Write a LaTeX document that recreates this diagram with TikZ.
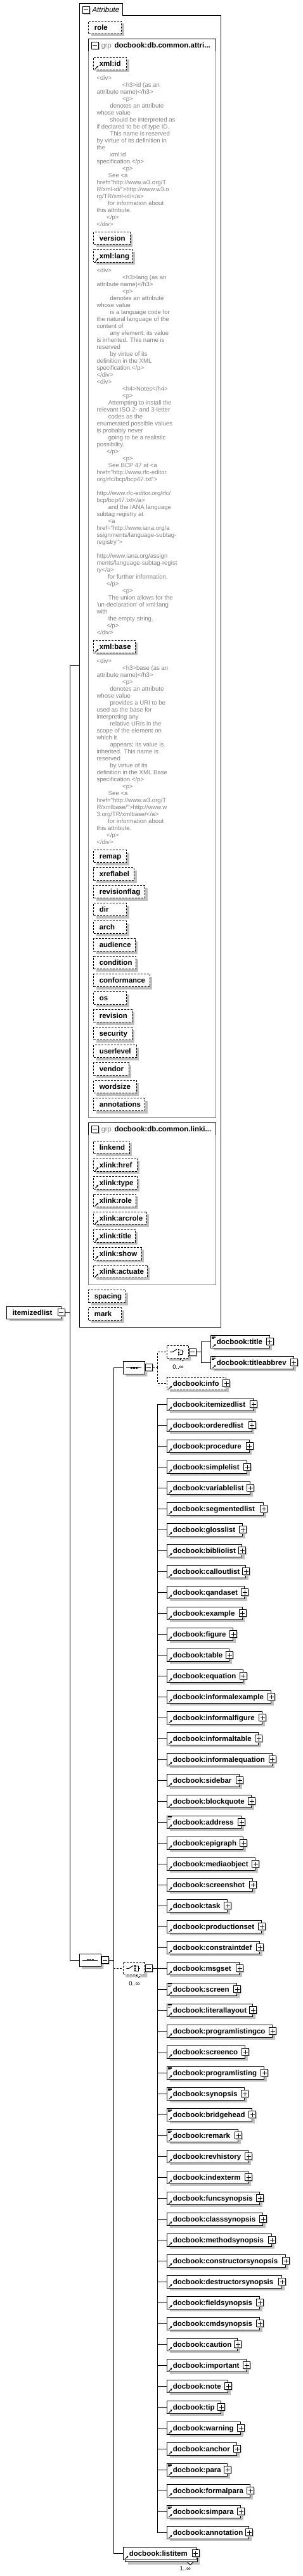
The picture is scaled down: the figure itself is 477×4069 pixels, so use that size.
\documentclass[tikz,border=0pt]{standalone}
\usepackage{fontspec}
\usetikzlibrary{shapes.misc,shadows,arrows.meta}
\newfontfamily\xsfont{Liberation Sans}
\definecolor{docgray}{RGB}{128,128,128}
\definecolor{shade}{RGB}{192,192,192}

\begin{document}
\begin{tikzpicture}[
    x=1pt, y=-1pt, line width=1pt,
    shadowed/.style={drop shadow={shadow xshift=4pt, shadow yshift=-4pt, fill=shade, opacity=1}},
    elemflat/.style={rectangle, draw, fill=white, anchor=west, inner xsep=9pt, inner ysep=0pt,
        minimum height=20pt, text height=9pt, text depth=1pt, font=\xsfont\bfseries\fontsize{11.5}{13}\selectfont},
    elem/.style={elemflat, shadowed},
    attr/.style={elem, dash pattern=on 3pt off 2pt},
    pm/.style={rectangle, draw, fill=white, minimum size=11pt, inner sep=0pt,
        drop shadow={shadow xshift=1.5pt, shadow yshift=-1.5pt, fill=shade, opacity=1}},
    minus/.style={pm, path picture={\draw ([xshift=-3.5pt]path picture bounding box.center) -- ([xshift=3.5pt]path picture bounding box.center);}},
    plus/.style={pm, path picture={\draw ([xshift=-3.5pt]path picture bounding box.center) -- ([xshift=3.5pt]path picture bounding box.center);
        \draw ([yshift=-3.5pt]path picture bounding box.center) -- ([yshift=3.5pt]path picture bounding box.center);}},
    octo/.style={chamfered rectangle, chamfered rectangle xsep=5pt, chamfered rectangle ysep=5pt, draw, fill=white, shadowed,
        minimum width=34pt, minimum height=20pt, inner sep=0pt},
    dsh/.style={dash pattern=on 3pt off 2pt},
    doc/.style={anchor=north west, inner sep=0pt, align=left, text=docgray, font=\xsfont\fontsize{9.6}{11}\selectfont},
    grptag/.style={anchor=base west, inner sep=0pt, text=docgray, font=\xsfont\fontsize{11}{13}\selectfont},
    grpname/.style={anchor=base west, inner sep=0pt, font=\xsfont\bfseries\fontsize{11.5}{13}\selectfont},
    linkarr/.style={-{Triangle[length=2.5pt,width=3pt]}, line width=0.9pt},
    mixmark/.style={line width=0.8pt},
    card/.style={inner sep=0pt, font=\xsfont\fontsize{9.5}{11}\selectfont},
]
    \useasboundingbox (0,0) rectangle (477,4069);

    % attribute frame
    \draw (125.3,2096.7) -- (125.3,5.3) -- (193,5.3) -- (193,24.3) -- (348.3,24.3) -- (348.3,2096.7) -- cycle;
    \node[minus] (attrm) at (135.5,15.5) {};
    \node[anchor=base west, inner sep=0pt, font=\xsfont\itshape\fontsize{11.5}{13}\selectfont] (attrtab) at (145,19.5) {Attribute};
    \coordinate (attr) at (125.3,1051);

    \node[attr] (role) at (139.3,43.3) {\makebox[33.7pt][l]{role}};

    \draw[docgray] (139.3,61.3) rectangle (340.7,1765.3);
    \draw (139.3,81) -- (139.3,61.3) -- (340.7,61.3) -- (340.7,81);
    \node[minus] (grpam) at (149.7,71.7) {};
    \node[grptag] (grpatag) at (159.3,75.5) {grp};
    \node[grpname] (grpaname) at (180,75.5) {docbook:db.common.attri...};

    \node[attr] (xmlid) at (147.3,100) {\makebox[33.7pt][l]{xml:id}};
    \node[doc] (docid) at (152,118.3) {\strut<div>\\
\hspace*{40.7pt}<h3>id (as an\\
attribute name)</h3>\\
\hspace*{40.7pt}<p>\\
\hspace*{21pt}denotes an attribute\\
whose value\\
\hspace*{21pt}should be interpreted as\\
if declared to be of type ID.\\
\hspace*{21pt}This name is reserved\\
by virtue of its definition in\\
the\\
\hspace*{21pt}xml:id\\
specification.</p>\\
\hspace*{40.7pt}<p>\\
\hspace*{18.3pt}See <a\\
href="http://www.w3.org/T\\
R/xml-id/">http://www.w3.o\\
rg/TR/xml-id/</a>\\
\hspace*{17.7pt}for information about\\
this attribute.\\
\hspace*{15.7pt}</p>\\
</div>};

    \node[attr] (version) at (147.3,376.3) {\makebox[39.4pt][l]{version}};
    \node[attr] (xmllang) at (147.3,404.3) {\makebox[43.4pt][l]{xml:lang}};
    \node[doc] (doclang) at (152,422.3) {\strut<div>\\
\hspace*{40.7pt}<h3>lang (as an\\
attribute name)</h3>\\
\hspace*{40.7pt}<p>\\
\hspace*{21pt}denotes an attribute\\
whose value\\
\hspace*{21pt}is a language code for\\
the natural language of the\\
content of\\
\hspace*{21pt}any element; its value\\
is inherited.  This name is\\
reserved\\
\hspace*{21pt}by virtue of its\\
definition in the XML\\
specification.</p>\\
</div>\\
<div>\\
\hspace*{40.7pt}<h4>Notes</h4>\\
\hspace*{40.7pt}<p>\\
\hspace*{18.3pt}Attempting to install the\\
relevant ISO 2- and 3-letter\\
\hspace*{18.3pt}codes as the\\
enumerated possible values\\
is probably never\\
\hspace*{18.3pt}going to be a realistic\\
possibility.\\
\hspace*{15.7pt}</p>\\
\hspace*{40.7pt}<p>\\
\hspace*{18.3pt}See BCP 47 at <a\\
href="http://www.rfc-editor.\\
org/rfc/bcp/bcp47.txt">\\
\strut\\
http://www.rfc-editor.org/rfc/\\
bcp/bcp47.txt</a>\\
\hspace*{18.3pt}and the IANA language\\
subtag registry at\\
\hspace*{18.3pt}<a\\
href="http://www.iana.org/a\\
ssignments/language-subtag-\\
registry">\\
\strut\\
http://www.iana.org/assign\\
ments/language-subtag-regist\\
ry</a>\\
\hspace*{17.7pt}for further information.\\
\hspace*{15.7pt}</p>\\
\hspace*{40.7pt}<p>\\
\hspace*{18.3pt}The union allows for the\\
'un-declaration' of xml:lang\\
with\\
\hspace*{18.3pt}the empty string.\\
\hspace*{15.7pt}</p>\\
</div>};

    \node[attr] (xmlbase) at (147.3,1021.3) {\makebox[47.4pt][l]{xml:base}};
    \node[doc] (docbase) at (152,1039.3) {\strut<div>\\
\hspace*{40.7pt}<h3>base (as an\\
attribute name)</h3>\\
\hspace*{40.7pt}<p>\\
\hspace*{21pt}denotes an attribute\\
whose value\\
\hspace*{21pt}provides a URI to be\\
used as the base for\\
interpreting any\\
\hspace*{21pt}relative URIs in the\\
scope of the element on\\
which it\\
\hspace*{21pt}appears; its value is\\
inherited.  This name is\\
reserved\\
\hspace*{21pt}by virtue of its\\
definition in the XML Base\\
specification.</p>\\
\hspace*{40.7pt}<p>\\
\hspace*{18.3pt}See <a\\
href="http://www.w3.org/T\\
R/xmlbase/">http://www.w\\
3.org/TR/xmlbase/</a>\\
\hspace*{17.7pt}for information about\\
this attribute.\\
\hspace*{15.7pt}</p>\\
</div>};

    \foreach \n/\w [count=\i from 0] in {remap/51.7, xreflabel/63.7, revisionflag/80.7, dir/51.7, arch/51.7,
        audience/65.4, condition/66.4, conformance/88.4, os/51.7, revision/60.4, security/60.4,
        userlevel/67.4, vendor/55.4, wordsize/67.4, annotations/80.7}
        \node[attr] (ga\i) at (147.3,1352.7+28*\i) {\makebox[\dimexpr\w pt-18pt\relax][l]{\n}};

    \draw[docgray] (139.3,1773.3) rectangle (340.7,2029.3);
    \draw (139.3,1792.7) -- (139.3,1773.3) -- (340.7,1773.3) -- (340.7,1792.7);
    \node[minus] (grpbm) at (149.7,1783.7) {};
    \node[grptag] (grpbtag) at (159.3,1787.5) {grp};
    \node[grpname] (grpbname) at (180,1787.5) {docbook:db.common.linki...};

    \foreach \n/\w [count=\i from 0] in {linkend/56.4, xlink:href/68.4, xlink:type/68.4, xlink:role/66.4,
        xlink:arcrole/83.4, xlink:title/65.4, xlink:show/75.4, xlink:actuate/84.4}
        \node[attr] (lk\i) at (147.3,1812+28*\i) {\makebox[\dimexpr\w pt-18pt\relax][l]{\n}};

    \node[attr] (spacing) at (139.3,2047.7) {\makebox[40.4pt][l]{spacing}};
    \node[attr] (mark) at (139.3,2075.7) {\makebox[33.7pt][l]{mark}};

    \foreach \bx in {xmlid,xmllang,xmlbase,lk1,lk2,lk3,lk4,lk5,lk6,lk7}
        \draw[linkarr] ([shift={(3pt,1.7pt)}]\bx.south west) -- ++(5pt,5pt);

    % root and sequences
    \node[elem] (root) at (10.3,2073.3) {\makebox[67.4pt][l]{itemizedlist}};
    \node[minus] (rootm) at (root.east) {};
    \coordinate (rbus) at (110.3,2073.3);

    \node[octo] (seq) at (142.3,3096) {};
    \node[minus, anchor=west] (seqm) at (seq.east) {};
    \coordinate (sbus) at (179.3,3096);

    \node[octo] (seqb) at (211.3,2160.3) {};
    \node[minus, anchor=west] (seqbm) at (seqb.east) {};
    \coordinate (s2bus) at (248.3,2160.3);

    \node[octo, dsh] (ch1) at (280,2135.7) {};
    \node[minus, anchor=west] (ch1m) at (ch1.east) {};
    \coordinate (c1bus) at (317.7,2135.7);
    \filldraw[fill=white, dsh] ([xshift=3.5pt]ch1.south) -- ++(4pt,-3.5pt) -- ++(4pt,3.5pt);
    \node[card] (ch1card) at (281,2159.3) {0..∞};

    \node[octo, dsh] (ch2) at (211.3,3109.3) {};
    \node[minus, anchor=west] (ch2m) at (ch2.east) {};
    \coordinate (bus2) at (248.3,3109.3);
    \filldraw[fill=white, dsh] ([xshift=3.5pt]ch2.south) -- ++(4pt,-3.5pt) -- ++(4pt,3.5pt);
    \node[card] (ch2card) at (212,3132.7) {0..∞};

    \foreach \s in {seq,seqb} {
        \draw ([xshift=-12pt]\s.center) -- ([xshift=12pt]\s.center);
        \foreach \dd in {-4,0,4}
            \fill ([xshift=\dd pt]\s.center) ++(-1.3pt,-1.3pt) rectangle ++(2.6pt,2.6pt);
    }
    \foreach \s in {ch1,ch2} {
        \draw ([xshift=-12pt]\s.center) -- ([xshift=-8pt]\s.center) -- ([shift={(-1pt,4.5pt)}]\s.center);
        \foreach \dd in {-3.7,0,3.7}
            \fill ([shift={(1.7pt,\dd pt)}]\s.center) ++(-1.2pt,-1.2pt) rectangle ++(2.4pt,2.4pt);
        \draw ([shift={(4pt,3.7pt)}]\s.center) -| ([shift={(7pt,-3.7pt)}]\s.center) -- ([shift={(4pt,-3.7pt)}]\s.center)
              ([xshift=7pt]\s.center) -- ([xshift=10pt]\s.center);
    }

    % first branch
    \node[elem] (title) at (332.3,2119.3) {\makebox[74.4pt][l]{docbook:title}};
    \node[plus] at (title.east) {};
    \node[elem] (tabbrev) at (332.3,2152.3) {\makebox[112.4pt][l]{docbook:titleabbrev}};
    \node[plus] at (tabbrev.east) {};
    \node[attr] (info) at (263.3,2185) {\makebox[74.7pt][l]{docbook:info}};
    \node[plus] at (info.east) {};

    % choice list
    \foreach \n/\w [count=\i] in {itemizedlist/136, orderedlist/133.4, procedure/129.4, simplelist/126,
        variablelist/131, segmentedlist/152, glosslist/119, bibliolist/118, calloutlist/124, qandaset/122,
        example/118.4, figure/104, table/98, equation/119.4, informalexample/164, informalfigure/150,
        informaltable/144, informalequation/165.4, sidebar/114, blockquote/133, address/117, epigraph/120,
        mediaobject/139, screenshot/135, task/95, productionset/149, constraintdef/146, msgset/114,
        screen/110, literallayout/135, programlistingco/166, screenco/123, programlisting/152.7,
        synopsis/122, bridgehead/133.7, remark/112, revhistory/128, indexterm/128, funcsynopsis/146,
        classsynopsis/151, methodsynopsis/164.7, constructorsynopsis/186.7, destructorsynopsis/181,
        fieldsynopsis/146, cmdsynopsis/146, caution/111, important/125, note/96, tip/85, warning/116,
        anchor/110, para/95, formalpara/131, simpara/115.7, annotation/129} {
        \node[elem] (e\i) at (263.3,2185.3+33*\i) {\makebox[\dimexpr\w pt-18pt\relax][l]{docbook:\n}};
        \node[plus] at (e\i.east) {};
        \draw (bus2) |- (e\i.west);
        \draw[linkarr] ([shift={(3pt,1.7pt)}]e\i.south west) -- ++(5pt,5pt);
    }

    % listitem
    \node[elem] (lib) at (197.3,4036.7) {\makebox[95.4pt][l]{}};
    \node[elemflat] (li) at (194.3,4033.3) {\makebox[96.7pt][l]{docbook:listitem}};
    \node[plus] at ([xshift=-1.3pt]li.east) {};
    \filldraw[fill=white] ([xshift=-16pt]lib.south east) -- ++(4.5pt,-4pt) -- ++(4.5pt,4pt);
    \node[card] (licard) at (292.3,4057.3) {1..∞};

    \foreach \bx in {title,tabbrev,info,li}
        \draw[linkarr] ([shift={(3pt,1.7pt)}]\bx.south west) -- ++(5pt,5pt);
    \foreach \bx in {title,tabbrev,e21,e29,e30,e33,e34,e35,e36,e52,e54}
        \draw[mixmark] ([shift={(2pt,-1.7pt)}]\bx.north west) -- ++(5.7pt,0pt)
                       ([shift={(2pt,-3.7pt)}]\bx.north west) -- ++(5.7pt,0pt)
                       ([shift={(2pt,-5.7pt)}]\bx.north west) -- ++(4pt,0pt);

    % connectors
    \draw (rootm.east) -- (rbus);
    \draw (rbus) |- (attr);
    \draw (rbus) |- (seq.west);
    \draw (seqm.east) -- (sbus);
    \draw (sbus) |- (seqb.west);
    \draw (sbus) |- (li.west);
    \draw[dsh] (sbus |- ch2.west) -- (ch2.west);
    \draw[dsh] (seqbm.east) -- (s2bus);
    \draw[dsh] (s2bus) |- (ch1.west);
    \draw[dsh] (s2bus) |- (info.west);
    \draw (ch1m.east) -- (c1bus);
    \draw (c1bus) |- (title.west);
    \draw (c1bus) |- (tabbrev.west);
    \draw (ch2m.east) -- (bus2);
\end{tikzpicture}
\end{document}
